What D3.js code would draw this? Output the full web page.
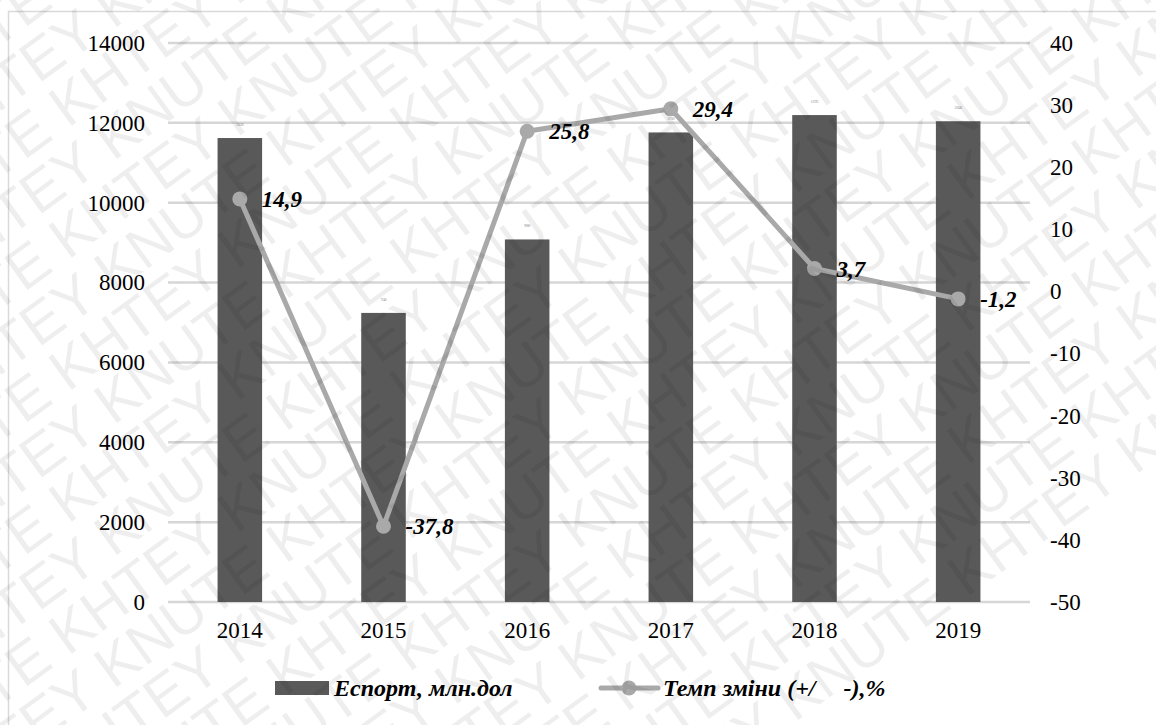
<!DOCTYPE html>
<html><head><meta charset="utf-8">
<script src="https://cdn.jsdelivr.net/npm/d3@7"></script>
<style>body{margin:0;background:#fff}svg{display:block}
.sf{font-family:"Liberation Serif","Times New Roman",Tinos,"DejaVu Serif",serif}
</style>
</head><body>
<svg id="c" width="1156" height="725"></svg>
<script>
const years = ["2014","2015","2016","2017","2018","2019"];
const exportVals = [11620, 7240, 9080, 11760, 12195, 12040];
const rateVals = [14.9, -37.8, 25.8, 29.4, 3.7, -1.2];
const rateLabels = ["14,9","-37,8","25,8","29,4","3,7","-1,2"];
const leftTicks = [0,2000,4000,6000,8000,10000,12000,14000];
const rightTicks = [-50,-40,-30,-20,-10,0,10,20,30,40];
const seriesNames = ["Еспорт, млн.дол", "Темп зміни (+/  -),%"];

const svg = d3.select("#c");
const L = 168, R = 1030, T = 43, B = 602;
const barColor = "#595959", lineColor = "#a9a9a9", gridColor = "#d6d6d6";

svg.append("rect").attr("x",8.5).attr("y",11.5).attr("width",1160).attr("height",730)
  .attr("fill","#fff").attr("stroke","#d9d9d9").attr("stroke-width",1.5);

const x = d3.scaleBand().domain(years).range([L,R]).paddingInner(0.69).paddingOuter(0.345);
const yL = d3.scaleLinear().domain([0,14000]).range([B,T]);
const yR = d3.scaleLinear().domain([-50,40]).range([B,T]);

function styleText(sel){
  sel.attr("class","sf").style("font-size","23px").attr("fill","#000");
}

svg.append("g").selectAll("line").data(leftTicks).join("line")
  .attr("x1",L).attr("x2",R).attr("y1",d=>yL(d)).attr("y2",d=>yL(d))
  .attr("stroke",gridColor).attr("stroke-width",2.5);

const gl = svg.append("g").attr("transform",`translate(${L},0)`)
  .call(d3.axisLeft(yL).tickValues(leftTicks).tickSize(0).tickPadding(23).tickFormat(d=>String(d)));
gl.attr("font-family",null).attr("font-size",null);
gl.select(".domain").remove();
styleText(gl.selectAll("text"));

const gr = svg.append("g").attr("transform",`translate(${R},0)`)
  .call(d3.axisRight(yR).tickValues(rightTicks).tickSize(0).tickPadding(20).tickFormat(d=>String(d)));
gr.attr("font-family",null).attr("font-size",null);
gr.select(".domain").remove();
styleText(gr.selectAll("text"));

const gx = svg.append("g").attr("transform",`translate(0,${B})`)
  .call(d3.axisBottom(x).tickSize(0).tickPadding(20));
gx.attr("font-family",null).attr("font-size",null);
gx.select(".domain").remove();
styleText(gx.selectAll("text"));

svg.append("g").selectAll("rect").data(exportVals).join("rect")
  .attr("x",(d,i)=>x(years[i])).attr("width",x.bandwidth())
  .attr("y",d=>yL(d)).attr("height",d=>yL(0)-yL(d)).attr("fill",barColor);

svg.append("g").selectAll("text").data(exportVals).join("text")
  .attr("x",(d,i)=>x(years[i])+x.bandwidth()/2).attr("y",d=>yL(d)-12)
  .attr("text-anchor","middle").attr("class","sf").style("font-size","3px")
  .attr("fill","#777").text(d=>d);

const cx = (i)=>x(years[i])+x.bandwidth()/2;
svg.append("path").datum(rateVals)
  .attr("d",d3.line().x((d,i)=>cx(i)).y(d=>yR(d)))
  .attr("fill","none").attr("stroke",lineColor).attr("stroke-width",5).attr("stroke-linejoin","round");
svg.append("g").selectAll("circle").data(rateVals).join("circle")
  .attr("cx",(d,i)=>cx(i)).attr("cy",d=>yR(d)).attr("r",7.5).attr("fill",lineColor);

svg.append("g").selectAll("text").data(rateVals).join("text")
  .attr("x",(d,i)=>cx(i)+22).attr("y",d=>yR(d)).attr("dy","0.35em")
  .attr("class","sf").style("font-size","23px").style("font-weight","bold").style("font-style","italic")
  .attr("fill","#000").text((d,i)=>rateLabels[i]);

const lg = svg.append("g");
lg.append("rect").attr("x",275).attr("y",681).attr("width",54).attr("height",14).attr("fill",barColor);
lg.append("text").attr("x",334).attr("y",688).attr("dy","0.35em")
  .attr("class","sf").style("font-size","24px").style("font-weight","bold").style("font-style","italic")
  .text(seriesNames[0]);
lg.append("line").attr("x1",601).attr("x2",658).attr("y1",688).attr("y2",688)
  .attr("stroke",lineColor).attr("stroke-width",5).attr("stroke-linecap","round");
lg.append("circle").attr("cx",629).attr("cy",688).attr("r",7.5).attr("fill",lineColor);
const t2 = lg.append("text").attr("x",663).attr("y",688).attr("dy","0.35em")
  .style("white-space","pre")
  .attr("class","sf").style("font-size","24px").style("font-weight","bold").style("font-style","italic");
const parts = seriesNames[1].split("  ");
t2.append("tspan").text(parts[0] + "  ");
t2.append("tspan").attr("dx",16).text(parts[1]);

// watermark
svg.append("clipPath").attr("id","wmclip").append("rect").attr("width",1156).attr("height",725);
const wm = svg.append("g").attr("clip-path","url(#wmclip)").attr("pointer-events","none");
const words = ["KNUTE","KHTEY"];
for (let r = -12; r < 24; r++) {
  let s = "";
  for (let k = 0; k < 14; k++) s += words[(k + r + 100) % 2] + " ";
  wm.append("text")
    .attr("transform",`translate(-300,${r*66}) rotate(-36)`)
    .attr("x",-600 + (r%2)*60).attr("y",0)
    .style("font-family","'Liberation Sans',Arial,sans-serif").style("font-size","58px")
    .attr("fill","#000").attr("fill-opacity",0.065).text(s);
}
</script>
</body></html>
